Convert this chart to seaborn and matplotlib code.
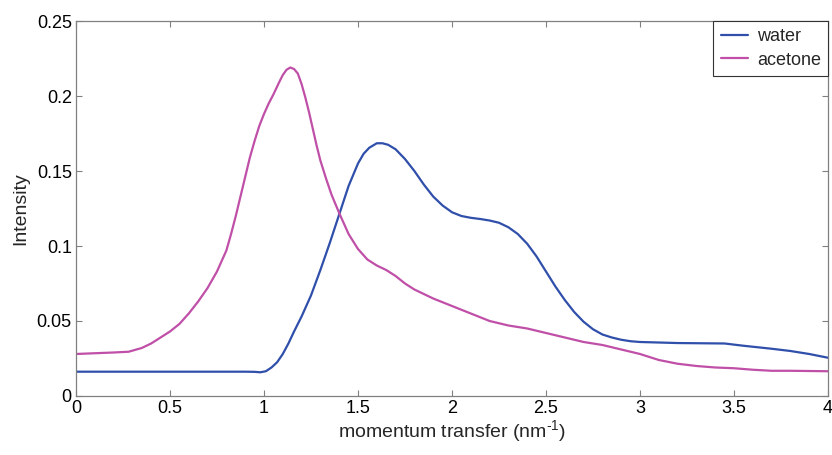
import matplotlib
matplotlib.use("Agg")
import matplotlib.pyplot as plt
import seaborn as sns
import pandas as pd
from matplotlib.ticker import FuncFormatter

water_q = [0.0, 0.3, 0.6, 0.9, 0.95, 0.98, 1.01, 1.04, 1.07, 1.1, 1.13, 1.16, 1.2, 1.25, 1.3,
           1.35, 1.4, 1.45, 1.5, 1.53, 1.56, 1.6, 1.63, 1.66, 1.7, 1.75, 1.8, 1.85, 1.9, 1.95,
           2.0, 2.05, 2.1, 2.15, 2.2, 2.25, 2.3, 2.35, 2.4, 2.45, 2.5, 2.55, 2.6, 2.65, 2.7,
           2.75, 2.8, 2.85, 2.9, 2.95, 3.0, 3.2, 3.45, 3.55, 3.7, 3.8, 3.9, 4.0]
water_i = [0.0162, 0.0162, 0.0162, 0.0162, 0.0161, 0.0158, 0.0165, 0.019, 0.0225, 0.028,
           0.035, 0.043, 0.053, 0.067, 0.084, 0.102, 0.121, 0.140, 0.155, 0.1615, 0.1655,
           0.1685, 0.1685, 0.1675, 0.1645, 0.158, 0.150, 0.141, 0.133, 0.127, 0.1225, 0.120,
           0.1188, 0.118, 0.117, 0.1155, 0.1125, 0.108, 0.1015, 0.093, 0.083, 0.073, 0.064,
           0.056, 0.0495, 0.0445, 0.041, 0.039, 0.0375, 0.0365, 0.036, 0.0353, 0.035, 0.0335,
           0.0315, 0.030, 0.028, 0.0255]

acetone_q = [0.0, 0.1, 0.2, 0.28, 0.35, 0.4, 0.45, 0.5, 0.55, 0.6, 0.65, 0.7, 0.75, 0.8,
             0.825, 0.85, 0.875, 0.9, 0.925, 0.95, 0.975, 1.0, 1.025, 1.05, 1.08, 1.1, 1.12,
             1.14, 1.16, 1.18, 1.2, 1.22, 1.24, 1.26, 1.28, 1.3, 1.33, 1.36, 1.4, 1.45, 1.5,
             1.55, 1.6, 1.65, 1.7, 1.75, 1.8, 1.9, 2.0, 2.1, 2.2, 2.3, 2.4, 2.5, 2.6, 2.7, 2.8,
             2.9, 3.0, 3.1, 3.2, 3.3, 3.4, 3.5, 3.6, 3.7, 3.8, 4.0]
acetone_i = [0.028, 0.0285, 0.029, 0.0295, 0.032, 0.035, 0.039, 0.043, 0.048, 0.055, 0.063,
             0.072, 0.083, 0.097, 0.108, 0.120, 0.133, 0.146, 0.159, 0.170, 0.180, 0.188,
             0.195, 0.201, 0.209, 0.214, 0.2175, 0.219, 0.218, 0.215, 0.208, 0.199, 0.189,
             0.178, 0.167, 0.157, 0.145, 0.134, 0.122, 0.108, 0.098, 0.091, 0.087, 0.084,
             0.080, 0.075, 0.071, 0.065, 0.060, 0.055, 0.050, 0.047, 0.045, 0.042, 0.039,
             0.036, 0.034, 0.031, 0.028, 0.024, 0.0215, 0.020, 0.019, 0.0185, 0.0175, 0.0168,
             0.0168, 0.0165]

series_names = ["water", "acetone"]
colors = {"water": "#2F4FAA", "acetone": "#C04FA8"}

df = pd.concat([
    pd.DataFrame({"q": water_q, "I": water_i, "sample": "water"}),
    pd.DataFrame({"q": acetone_q, "I": acetone_i, "sample": "acetone"}),
], ignore_index=True)

sns.set_style("ticks")
plt.rcParams["font.family"] = ["Liberation Sans", "DejaVu Sans"]
plt.rcParams["mathtext.default"] = "regular"

fig = plt.figure(figsize=(8.32, 4.55), dpi=100)
ax = fig.add_axes([0.0913, 0.1297, 0.9039, 0.8241])

sns.lineplot(data=df, x="q", y="I", hue="sample", hue_order=series_names,
             palette=colors, linewidth=1.6, ax=ax, sort=False, estimator=None)

ax.set_xlim(0, 4)
ax.set_ylim(0, 0.25)
ax.set_xticks([0, 0.5, 1, 1.5, 2, 2.5, 3, 3.5, 4])
ax.set_yticks([0, 0.05, 0.1, 0.15, 0.2, 0.25])
fmt = FuncFormatter(lambda v, p: f"{v:g}")
ax.xaxis.set_major_formatter(fmt)
ax.yaxis.set_major_formatter(fmt)
ax.tick_params(direction="in", top=True, right=True, length=4.5, width=0.8,
               color="#808080", labelsize=13, labelcolor="black", pad=3)
for s in ax.spines.values():
    s.set_color("#808080")
    s.set_linewidth(0.9)

ax.set_xlabel("momentum transfer (nm$^{\u20101}$)", fontsize=14, labelpad=1)
ax.set_ylabel("Intensity", fontsize=14, labelpad=5)

leg = ax.legend(loc="upper right", fontsize=13, frameon=True, fancybox=False,
                borderaxespad=0, handlelength=1.5, handletextpad=0.5,
                borderpad=0.4, labelspacing=0.35)
leg.get_frame().set_edgecolor("#333333")
leg.get_frame().set_linewidth(0.8)
leg.get_frame().set_alpha(1)

fig.savefig("out.png", dpi=100)
